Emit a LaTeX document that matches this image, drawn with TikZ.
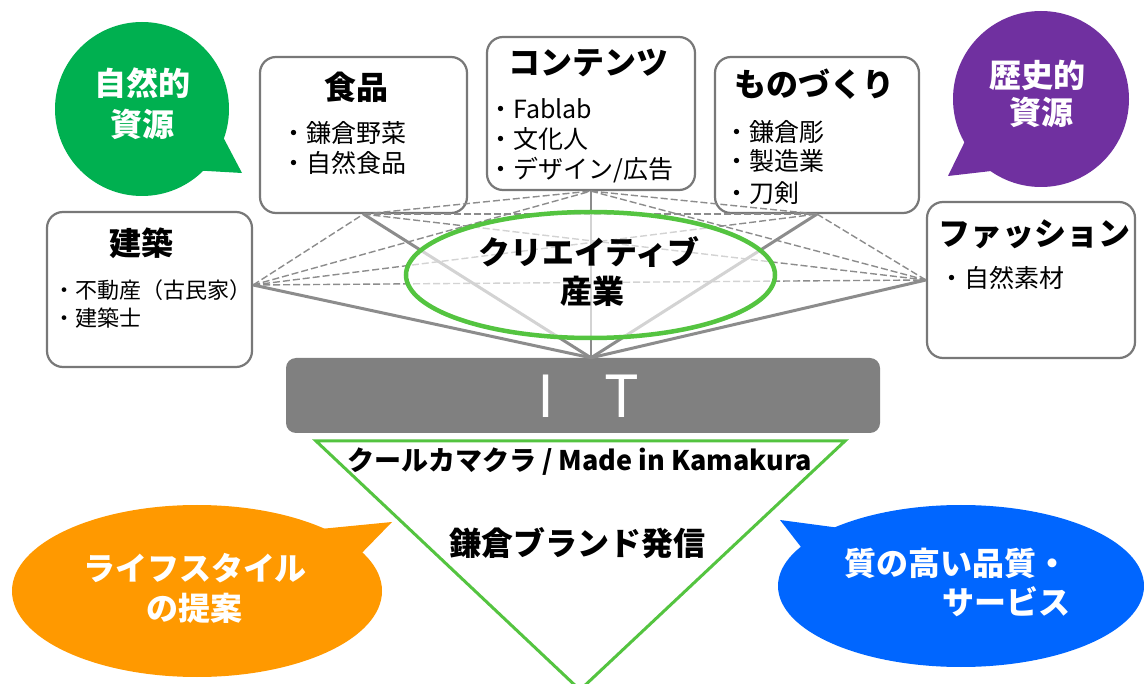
\documentclass[tikz,border=0pt]{standalone}
\usepackage{fontspec}
\setmainfont{Noto Sans CJK JP}
\usetikzlibrary{shapes.geometric}
\definecolor{boxgray}{RGB}{120,120,120}
\definecolor{linegray}{RGB}{140,140,140}
\definecolor{ellgreen}{RGB}{84,196,64}
\definecolor{cgreen}{RGB}{0,176,80}
\definecolor{cpurple}{RGB}{112,48,160}
\definecolor{corange}{RGB}{255,153,0}
\definecolor{cblue}{RGB}{0,102,255}
\definecolor{itgray}{RGB}{128,128,128}
\begin{document}
\begin{tikzpicture}[x=1pt,y=-1pt,
  catbox/.style={draw=boxgray, line width=2.2pt, rounded corners=16pt, fill=white,
    minimum width=207pt, minimum height=155pt, inner sep=0pt},
  cattitle/.style={font=\fontsize{32}{36}\selectfont\bfseries, inner sep=0pt},
  catitem/.style={font=\fontsize{25}{28}\selectfont, anchor=west, inner sep=0pt},
  dlink/.style={draw=linegray, line width=1.4pt, dash pattern=on 7pt off 3pt},
  slink/.style={draw=linegray, line width=3pt},
  bubbletext/.style={text=white, font=\fontsize{32}{36}\selectfont\bfseries, inner sep=0pt},
  bigtext/.style={font=\fontsize{32}{36}\selectfont\bfseries, inner sep=0pt},
]
\useasboundingbox (0,0) rectangle (1144,684);
\fill[white] (0,0) rectangle (1144,684);

% category boxes
\node[catbox, minimum width=205pt] (kenchiku) at (149.5,289.5) {};
\node[catbox, minimum height=156pt] (shokuhin) at (363.5,135) {};
\node[catbox, minimum width=208pt, minimum height=153pt] (contents) at (591,113.5) {};
\node[catbox, minimum width=204pt, minimum height=156pt] (mono) at (817,135) {};
\node[catbox, minimum width=208pt, minimum height=156pt] (fashion) at (1031,280) {};

% IT bar
\node[fill=itgray, rounded corners=10pt, minimum width=594pt, minimum height=75pt, inner sep=0pt] (it) at (583,395.5) {};
\node[text=white, font=\fontsize{58}{60}\selectfont, inner sep=0pt] (ittext) at (588,396) {I\hspace{50pt}T};

% connection points
\coordinate (pL) at ([yshift=4.5pt]kenchiku.east);
\coordinate (pF) at (shokuhin.south);
\coordinate (pC) at (contents.south);
\coordinate (pM) at (mono.south);
\coordinate (pR) at (fashion.west);
\coordinate (pIT) at ([xshift=8pt]it.north);

% network
\foreach \a/\b in {pL/pF, pL/pC, pL/pM, pL/pR, pF/pC, pF/pM, pF/pR, pC/pM, pC/pR, pM/pR}
  \draw[dlink] (\a) -- (\b);
\foreach \a in {pL, pF, pM, pR}
  \draw[slink] (\a) -- (pIT);
\draw[draw=linegray, line width=1.5pt] (pC) -- (pIT);

% creative industry ellipse
\node[ellipse, draw=ellgreen, line width=4.5pt, fill=white, fill opacity=0.62, draw opacity=1,
  minimum width=369pt, minimum height=126pt, inner sep=0pt] (creative) at (590.5,275) {};
\node[bigtext] (cre1) at (589,252) {クリエイティブ};
\node[bigtext] (cre2) at (592,291) {産業};

% box texts
\node[cattitle] (t1) at (141,243) {建築};
\node[catitem, font=\fontsize{22}{26}\selectfont] (t1a) at (53,290) {・不動産（古民家）};
\node[catitem, font=\fontsize{22}{26}\selectfont] (t1b) at (53,318) {・建築士};

\node[cattitle] (t2) at (356,87) {食品};
\node[catitem] (t2a) at (281,133) {・鎌倉野菜};
\node[catitem] (t2b) at (281,163) {・自然食品};

\node[cattitle] (t3) at (588,63) {コンテンツ};
\node[catitem] (t3a) at (488,109) {・Fablab};
\node[catitem] (t3b) at (488,139) {・文化人};
\node[catitem] (t3c) at (488,170) {・デザイン/広告};

\node[cattitle] (t4) at (814,84) {ものづくり};
\node[catitem] (t4a) at (724,132) {・鎌倉彫};
\node[catitem] (t4b) at (724,161) {・製造業};
\node[catitem] (t4c) at (724,193) {・刀剣};

\node[cattitle] (t5) at (1034,234) {ファッション};
\node[catitem] (t5a) at (939,278) {・自然素材};

% triangle
\coordinate (triA) at (316,441);
\coordinate (triB) at (845,441);
\coordinate (triC) at (580,690);
\draw[draw=ellgreen, line width=3pt, fill=white] (triA) -- (triB) -- (triC) -- cycle;
\node[font=\fontsize{27}{30}\selectfont\bfseries, inner sep=0pt] (brand1) at (580,462) {クールカマクラ / Made in Kamakura};
\node[bigtext] (brand2) at (577,543) {鎌倉ブランド発信};

% speech bubbles
\fill[cgreen] (142,109) circle[radius=87pt];
\fill[cgreen] (222,135) -- (242,173) -- (190,170) -- cycle;
\node[bubbletext] (g1) at (142,83) {自然的};
\node[bubbletext] (g2) at (142,124) {資源};

\fill[cpurple] (1041,99) circle[radius=88pt];
\fill[cpurple] (968,135) -- (948,176) -- (1000,170) -- cycle;
\node[bubbletext] (p1) at (1037,75) {歴史的};
\node[bubbletext] (p2) at (1041,112) {資源};

\fill[corange] (197,591) ellipse[x radius=185pt, y radius=86pt];
\fill[corange] (310,530) -- (392,522) -- (355,560) -- cycle;
\node[bubbletext] (o1) at (195,568) {ライフスタイル};
\node[bubbletext] (o2) at (194,608) {の提案};

\fill[cblue] (961,586) ellipse[x radius=183pt, y radius=81pt];
\fill[cblue] (855,530) -- (780,520) -- (808,556) -- cycle;
\node[bubbletext, anchor=east] (b1) at (1069,563) {質の高い品質・};
\node[bubbletext] (b2) at (1006,602) {サービス};
\end{tikzpicture}
\end{document}
